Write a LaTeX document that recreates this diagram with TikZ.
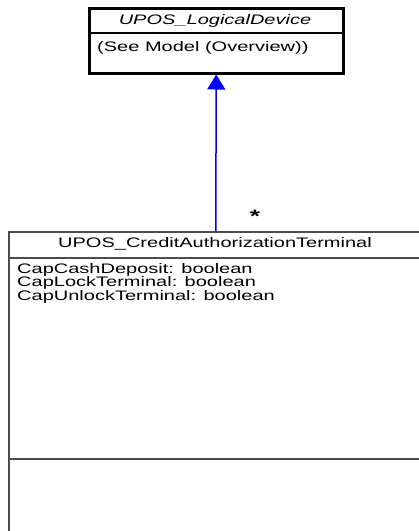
\documentclass[tikz,border=0pt]{standalone}
\usepackage{fontspec}
\setmainfont{Liberation Sans}[FakeStretch=1.45]
\usetikzlibrary{arrows.meta}

\begin{document}
\begin{tikzpicture}[x=1pt,y=-1pt,font=\fontsize{13.8}{15}\selectfont,>={Triangle[width=18pt,length=15pt]}]
		\tikzstyle{classbox}=[draw,rectangle,inner sep=0pt,anchor=north west]
		\tikzstyle{member}=[anchor=base west,inner sep=0pt]
		\useasboundingbox (0,0) rectangle (419,531);
		\clip (0,0) rectangle (419,531);

		\node[classbox,line width=2.5pt,minimum width=254pt,minimum height=65pt] (device) at (88,7) {};
		\node[inner sep=0pt,anchor=base,font=\fontsize{13.8}{15}\selectfont\itshape] (devicename) at (215,24) {UPOS\_LogicalDevice};
		\node[member] (devicenote) at (97,51) {(See Model (Overview))};
		\draw[line width=2pt] (88,33) -- (342,33);

		\node[classbox,line width=1.5pt,draw=black!70,minimum width=414pt,minimum height=330pt] (terminal) at (8,231) {};
		\node[inner sep=0pt,anchor=base] (terminalname) at (215,247) {UPOS\_CreditAuthorizationTerminal};
		\node[member] (cashdeposit) at (17,273) {CapCashDeposit: boolean};
		\node[member] (lockterminal) at (17,286.5) {CapLockTerminal: boolean};
		\node[member] (unlockterminal) at (17,300) {CapUnlockTerminal: boolean};
		\draw[line width=1.5pt,black!70] (8,258) -- (422,258);
		\draw[line width=1.5pt,black!70] (8,459) -- (422,459);

		\node[inner sep=0pt,font=\fontsize{18}{20}\selectfont\bfseries] (mult) at (255,216) {*};

		\draw[->,blue,line width=1.5pt] (terminal.north) -- (device.south);
\end{tikzpicture}
\end{document}
